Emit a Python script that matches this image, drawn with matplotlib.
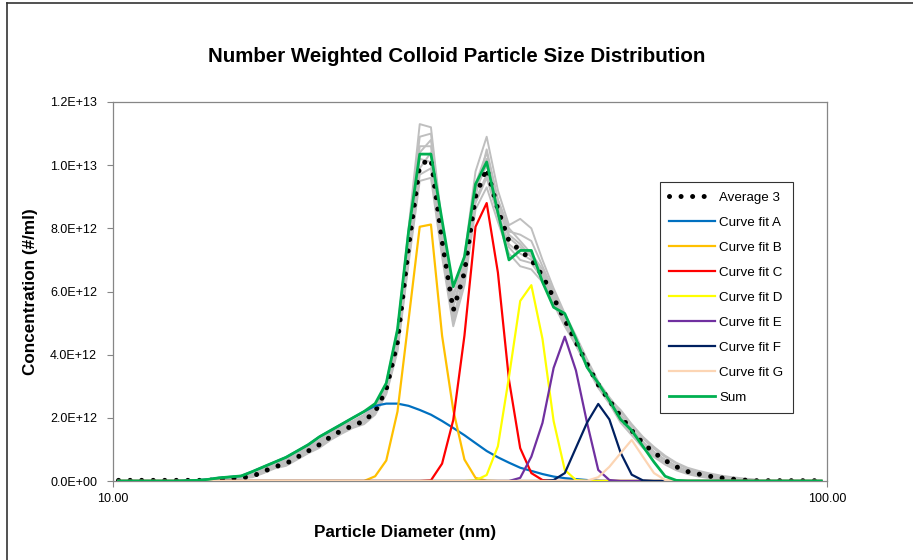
import numpy as np
import matplotlib.pyplot as plt
from matplotlib.lines import Line2D
from matplotlib.ticker import FuncFormatter, NullLocator

plt.rcParams['font.family'] = ['Liberation Sans', 'DejaVu Sans']

# bin centres (nm)
diameter = [10.18, 10.56, 10.94, 11.34, 11.76, 12.19, 12.63, 13.10, 13.58, 14.07,
            14.59, 15.12, 15.68, 16.25, 16.85, 17.47, 18.11, 18.77, 19.46, 20.17,
            20.91, 21.67, 22.47, 23.29, 24.14, 25.03, 25.94, 26.89, 27.88, 28.90,
            29.96, 31.06, 32.19, 33.37, 34.60, 35.86, 37.18, 38.54, 39.95, 41.41,
            42.93, 44.50, 46.13, 47.82, 49.57, 51.39, 53.27, 55.22, 57.24, 59.34,
            61.51, 63.77, 66.10, 68.52, 71.03, 73.64, 76.33, 79.13, 82.03, 85.03,
            88.15, 91.37, 94.72, 98.19]

# concentrations in units of 1E+12 #/ml
average_3 = [0.02, 0.02, 0.02, 0.02, 0.02, 0.02, 0.02, 0.02, 0.02,
             0.05, 0.08, 0.10, 0.15, 0.30, 0.45, 0.55, 0.75, 0.95, 1.15, 1.40, 1.60, 1.75, 1.90,
             2.20, 2.90, 4.40, 7.40, 10.00, 10.20, 7.60, 5.40, 6.60, 9.00, 9.90, 8.60, 7.60, 7.30,
             7.00, 6.50, 5.80, 5.10,
             4.40, 3.70, 3.05, 2.55, 2.05, 1.60, 1.20, 0.90, 0.65, 0.45, 0.30, 0.22, 0.15, 0.10,
             0.06, 0.03, 0.01,
             0.01, 0.01, 0.01, 0.01, 0.01, 0.01]

fit_a = [0, 0, 0, 0, 0, 0, 0.01,
         0.02, 0.05, 0.10, 0.13, 0.16, 0.30, 0.45, 0.60, 0.75, 0.95, 1.15, 1.40, 1.60, 1.80, 2.00, 2.20,
         2.38, 2.45, 2.45, 2.38, 2.25, 2.10, 1.90, 1.68, 1.45, 1.20, 0.95, 0.75, 0.58, 0.42, 0.32,
         0.22, 0.14, 0.09, 0.06, 0.03, 0.01,
         0, 0, 0, 0, 0, 0, 0, 0, 0, 0, 0, 0, 0, 0, 0, 0, 0, 0, 0, 0]
fit_b = [0] * 23 + [0.15, 0.65, 2.20, 5.10, 8.05, 8.12, 4.60, 2.25, 0.68, 0.10, 0.01] + [0] * 30
fit_c = [0] * 28 + [0.02, 0.55, 1.93, 4.60, 8.05, 8.80, 6.60, 3.20, 1.04, 0.25, 0.03] + [0] * 25
fit_d = [0] * 32 + [0.02, 0.19, 1.10, 3.30, 5.70, 6.20, 4.50, 1.90, 0.35, 0.03] + [0] * 22
fit_e = [0] * 36 + [0.10, 0.77, 1.84, 3.58, 4.57, 3.50, 1.84, 0.35, 0.03] + [0] * 19
fit_f = [0] * 39 + [0.03, 0.25, 1.05, 1.85, 2.44, 1.95, 0.90, 0.20, 0.02] + [0] * 16
fit_g = [0] * 42 + [0.01, 0.12, 0.45, 0.88, 1.30, 0.77, 0.25, 0.03] + [0] * 14

fit_sum = [0, 0, 0, 0, 0, 0, 0.01,
           0.02, 0.05, 0.10, 0.13, 0.16, 0.30, 0.45, 0.60, 0.75, 0.95, 1.15, 1.40, 1.60, 1.80, 2.00, 2.20,
           2.45, 3.10, 4.80, 7.90, 10.35, 10.35, 8.25, 6.15, 7.10, 9.40, 10.10, 8.50, 7.00, 7.30, 7.30,
           6.30, 5.50, 5.30, 4.50, 3.60, 3.10, 2.55, 1.95, 1.60, 1.10, 0.60, 0.15, 0.02,
           0, 0, 0, 0, 0, 0, 0, 0, 0, 0, 0, 0, 0]

# individual measurements (bins 6..57)
rep_1 = [0.02, 0.03, 0.04, 0.07, 0.10, 0.14, 0.20, 0.38, 0.52, 0.66, 0.85, 1.05, 1.28,
         1.52, 1.72, 1.85, 2.05, 2.35, 3.05, 4.70, 8.00, 11.30, 11.20, 8.10, 5.90, 6.90,
         9.40, 10.40, 8.90, 8.00, 7.60, 7.20, 6.70, 5.90, 5.20, 4.50, 3.80, 3.10, 2.60,
         2.25, 1.80, 1.40, 1.08, 0.80, 0.58, 0.42, 0.32, 0.24, 0.17, 0.12, 0.08, 0.05]
rep_2 = [0.01, 0.02, 0.02, 0.04, 0.07, 0.09, 0.12, 0.25, 0.40, 0.48, 0.68, 0.88, 1.05,
         1.30, 1.50, 1.68, 1.80, 2.10, 2.75, 4.10, 6.90, 9.50, 9.60, 7.10, 4.90, 6.20,
         8.60, 9.30, 8.20, 7.20, 6.80, 6.70, 6.30, 5.60, 4.90, 4.30, 3.60, 2.95, 2.45,
         1.85, 1.45, 1.05, 0.76, 0.52, 0.34, 0.22, 0.14, 0.09, 0.05, 0.02, 0.01, 0.00]
rep_3 = [0.02, 0.02, 0.03, 0.06, 0.09, 0.12, 0.18, 0.32, 0.50, 0.60, 0.80, 1.00, 1.20,
         1.48, 1.70, 1.82, 1.98, 2.28, 3.00, 4.50, 7.60, 10.40, 10.80, 8.00, 5.80, 7.10,
         9.80, 10.90, 9.20, 8.10, 8.30, 8.00, 7.00, 6.10, 5.30, 4.60, 3.85, 3.15, 2.65,
         2.20, 1.75, 1.35, 1.02, 0.76, 0.55, 0.38, 0.28, 0.20, 0.14, 0.09, 0.06, 0.03]
rep_4 = [0.02, 0.03, 0.03, 0.05, 0.08, 0.11, 0.16, 0.28, 0.42, 0.58, 0.78, 0.92, 1.12,
         1.36, 1.58, 1.78, 1.92, 2.18, 2.85, 4.30, 7.20, 9.90, 10.40, 7.40, 5.20, 6.40,
         8.80, 9.60, 8.40, 7.40, 7.00, 6.90, 6.40, 5.70, 5.00, 4.30, 3.65, 3.00, 2.50,
         1.95, 1.52, 1.12, 0.82, 0.58, 0.40, 0.26, 0.18, 0.12, 0.07, 0.04, 0.02, 0.01]
rep_5 = [0.03, 0.03, 0.05, 0.08, 0.12, 0.15, 0.22, 0.35, 0.55, 0.70, 0.88, 1.10, 1.30,
         1.55, 1.75, 1.90, 2.10, 2.40, 3.10, 4.80, 7.90, 10.90, 11.00, 7.90, 5.60, 6.80,
         9.30, 10.20, 8.80, 7.80, 7.50, 7.10, 6.60, 5.90, 5.10, 4.40, 3.75, 3.10, 2.60,
         2.10, 1.65, 1.24, 0.92, 0.66, 0.46, 0.31, 0.23, 0.15, 0.10, 0.06, 0.03, 0.01]
rep_6 = [0.01, 0.02, 0.02, 0.04, 0.06, 0.09, 0.14, 0.27, 0.44, 0.52, 0.72, 0.90, 1.10,
         1.35, 1.55, 1.70, 1.86, 2.15, 2.80, 4.20, 7.00, 9.70, 9.90, 7.30, 5.00, 6.30,
         8.90, 9.70, 8.50, 7.50, 7.20, 7.00, 6.50, 5.80, 5.05, 4.35, 3.70, 3.05, 2.55,
         2.05, 1.60, 1.20, 0.90, 0.66, 0.46, 0.31, 0.22, 0.15, 0.10, 0.06, 0.03, 0.01]
rep_7 = [0.02, 0.02, 0.03, 0.06, 0.09, 0.11, 0.17, 0.33, 0.48, 0.62, 0.80, 1.02, 1.22,
         1.45, 1.65, 1.80, 1.95, 2.25, 2.95, 4.55, 7.70, 10.60, 10.60, 7.80, 5.50, 6.70,
         9.20, 10.00, 8.70, 7.70, 7.40, 7.10, 6.55, 5.80, 5.10, 4.40, 3.70, 3.05, 2.55,
         2.05, 1.62, 1.22, 0.90, 0.66, 0.46, 0.31, 0.22, 0.15, 0.10, 0.06, 0.03, 0.01]
rep_8 = [0.02, 0.03, 0.04, 0.06, 0.09, 0.12, 0.18, 0.30, 0.46, 0.56, 0.76, 0.98, 1.18,
         1.42, 1.62, 1.76, 1.94, 2.22, 2.92, 4.40, 7.30, 10.20, 10.10, 7.50, 5.10, 6.60,
         9.00, 10.50, 8.90, 7.90, 7.80, 7.60, 6.80, 6.00, 5.20, 4.45, 3.75, 3.08, 2.58,
         2.08, 1.64, 1.24, 0.92, 0.67, 0.47, 0.32, 0.23, 0.15, 0.10, 0.06, 0.03, 0.01]

fit_labels = ['Curve fit A', 'Curve fit B', 'Curve fit C', 'Curve fit D',
              'Curve fit E', 'Curve fit F', 'Curve fit G']
fit_colors = ['#0070C0', '#FFC000', '#FF0000', '#FFFF00', '#7030A0', '#002060', '#FCD5B4']

x = np.array(diameter)
scale = 1e12

fig = plt.figure(figsize=(9.13, 5.6), dpi=100)
ax = fig.add_axes([113 / 913, 1 - 481 / 560, 714 / 913, 379 / 560])

for rep in [rep_1, rep_2, rep_3, rep_4, rep_5, rep_6, rep_7, rep_8]:
    ax.plot(x[6:58], np.array(rep) * scale, color='#BFBFBF', lw=1.4, zorder=2)

ax.plot(x, np.array(average_3) * scale, color='black', lw=3.6,
        linestyle=(0, (0.01, 2.3)), dash_capstyle='round', label='Average 3', zorder=3)

for vals, lab, col in zip([fit_a, fit_b, fit_c, fit_d, fit_e, fit_f, fit_g], fit_labels, fit_colors):
    ax.plot(x, np.array(vals) * scale, color=col, lw=1.6, label=lab, zorder=4)

ax.plot(x, np.array(fit_sum) * scale, color='#00B050', lw=2.0, label='Sum', zorder=5)

ax.set_xscale('log')
ax.set_xlim(10, 100)
ax.set_xticks([10, 100])
ax.set_xticklabels(['10.00', '100.00'])
ax.xaxis.set_minor_locator(NullLocator())
ax.set_ylim(0, 1.2e13)
ax.set_yticks(np.arange(0, 1.21e13, 2e12))
ax.yaxis.set_major_formatter(FuncFormatter(lambda v, p: f'{v:.1E}'))
ax.tick_params(axis='both', labelsize=9, color='#868686', length=4, width=0.8)
ax.tick_params(axis='y', pad=7.5)
ax.tick_params(axis='x', pad=5)
for s in ax.spines.values():
    s.set_color('#868686')
    s.set_linewidth(0.9)

ax.set_ylabel('Concentration (#/ml)', fontsize=12.3, fontweight='bold', labelpad=9)
fig.text(405 / 913, 1 - 532 / 560, 'Particle Diameter (nm)', fontsize=12.3,
         fontweight='bold', ha='center', va='center')
fig.text(457 / 913, 1 - 57 / 560, 'Number Weighted Colloid Particle Size Distribution',
         fontsize=14.8, fontweight='bold', ha='center', va='center')

leg = ax.legend(loc='upper left', bbox_to_anchor=((660 - 113) / 714, (481 - 182) / 379),
                fontsize=9.6, frameon=True, fancybox=False, handlelength=3.45,
                labelspacing=0.95, borderaxespad=0, borderpad=0.7, handletextpad=0.3)
leg.get_frame().set_edgecolor('black')
leg.get_frame().set_linewidth(0.8)

# outer chart border
fig.add_artist(Line2D([7 / 913, 1], [1 - 3 / 560, 1 - 3 / 560], color='#333333', lw=1.2))
fig.add_artist(Line2D([7 / 913, 7 / 913], [0, 1 - 3 / 560], color='#333333', lw=1.2))

fig.savefig('out.png', dpi=100)
